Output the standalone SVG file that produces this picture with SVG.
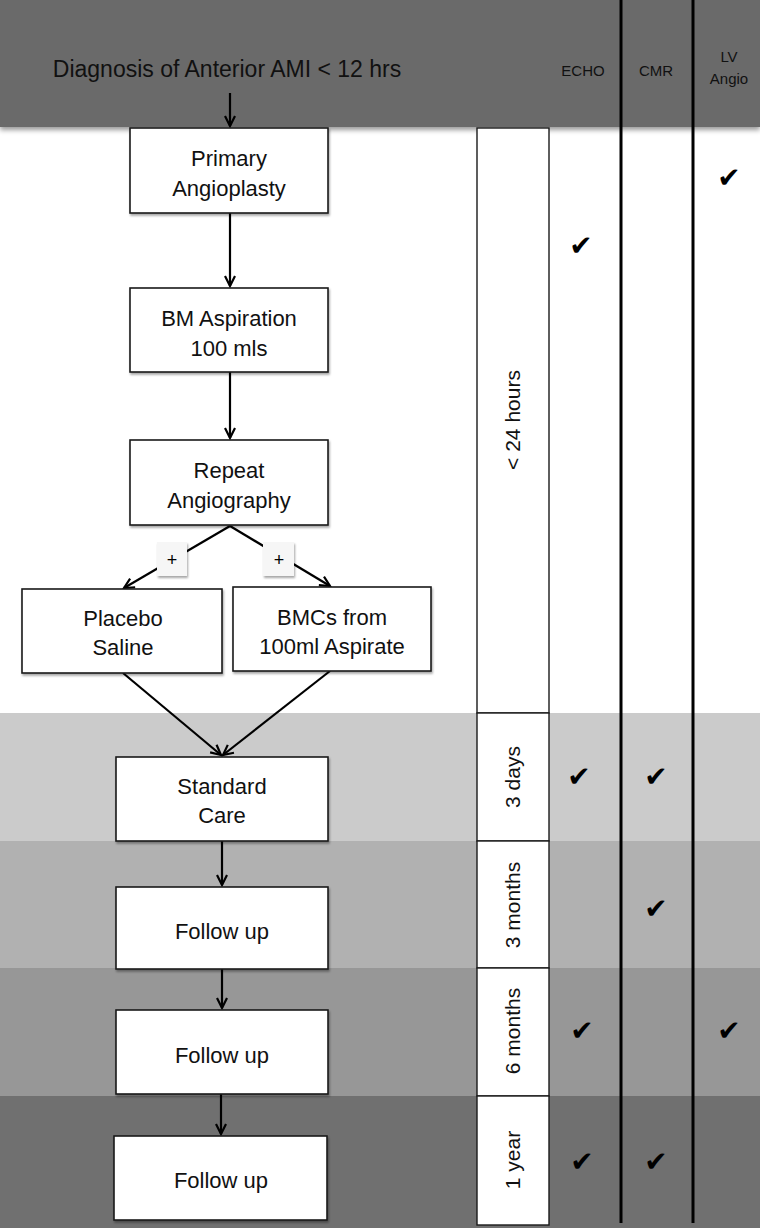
<svg xmlns="http://www.w3.org/2000/svg" width="760" height="1228" viewBox="0 0 760 1228">
<defs>
<style>
.box{fill:#fff;stroke:#1a1a1a;stroke-width:1.6;filter:url(#sh)}
.tbox{fill:#fff;stroke:#1a1a1a;stroke-width:1.4}
.t{font-family:"Liberation Sans",Arial,sans-serif;font-size:22px;fill:#111;text-anchor:middle}
.tl{font-family:"Liberation Sans",Arial,sans-serif;font-size:21px;fill:#111;text-anchor:middle}
.hd{font-family:"Liberation Sans",Arial,sans-serif;fill:#111;text-anchor:middle}
.ck{font-family:"DejaVu Sans",sans-serif;font-size:28px;fill:#000;text-anchor:middle}
.pl{font-family:"Liberation Sans",Arial,sans-serif;font-size:18px;fill:#000;text-anchor:middle}
.con{stroke:#000;stroke-width:2.2;fill:none}
.col{stroke:#000;stroke-width:3}
</style>
<filter id="sh" x="-10%" y="-10%" width="130%" height="140%">
<feDropShadow dx="1" dy="2" stdDeviation="1.2" flood-color="#000" flood-opacity="0.35"/>
</filter>
<filter id="hs" x="-5%" y="-5%" width="110%" height="120%">
<feDropShadow dx="0" dy="3" stdDeviation="2.5" flood-color="#000" flood-opacity="0.4"/>
</filter>
<marker id="ah" markerWidth="14" markerHeight="14" refX="11" refY="6" orient="auto" markerUnits="userSpaceOnUse">
<polyline points="1,1 11,6 1,11" fill="none" stroke="#000" stroke-width="2.2"/>
</marker>
</defs>

<g id="bands">
<rect x="0" y="713" width="760" height="128" fill="#cbcbcb"/>
<rect x="0" y="841" width="760" height="127" fill="#b1b1b1"/>
<rect x="0" y="968" width="760" height="128" fill="#979797"/>
<rect x="0" y="1096" width="760" height="132" fill="#707070"/>
<rect x="0" y="0" width="760" height="127" fill="#6b6b6b" filter="url(#hs)"/>
</g>

<g id="columns">
<line class="col" x1="621" y1="0" x2="621" y2="1223"/>
<line class="col" x1="693" y1="0" x2="693" y2="1223"/>
</g>

<g id="header">
<text class="hd" x="227" y="77" font-size="23">Diagnosis of Anterior AMI &lt; 12 hrs</text>
<text class="hd" x="583" y="76" font-size="15">ECHO</text>
<text class="hd" x="656" y="76" font-size="15">CMR</text>
<text class="hd" x="729" y="62" font-size="15">LV</text>
<text class="hd" x="729" y="84" font-size="15">Angio</text>
</g>

<g id="time-column">
<rect class="tbox" x="477" y="128" width="72" height="585"/>
<rect class="tbox" x="477" y="713" width="72" height="128"/>
<rect class="tbox" x="477" y="841" width="72" height="127"/>
<rect class="tbox" x="477" y="968" width="72" height="128"/>
<rect class="tbox" x="477" y="1096" width="72" height="129"/>
<text class="tl" transform="translate(520,420) rotate(-90)">&lt; 24 hours</text>
<text class="tl" transform="translate(520,777) rotate(-90)">3 days</text>
<text class="tl" transform="translate(520,905) rotate(-90)">3 months</text>
<text class="tl" transform="translate(520,1031) rotate(-90)">6 months</text>
<text class="tl" transform="translate(520,1160) rotate(-90)">1 year</text>
</g>

<g id="checks">
<text class="ck" x="729" y="187">✔</text>
<text class="ck" x="581" y="255">✔</text>
<text class="ck" x="579" y="786">✔</text>
<text class="ck" x="656" y="786">✔</text>
<text class="ck" x="656" y="918">✔</text>
<text class="ck" x="582" y="1040">✔</text>
<text class="ck" x="729" y="1040">✔</text>
<text class="ck" x="582" y="1171">✔</text>
<text class="ck" x="656" y="1171">✔</text>
</g>

<g id="connectors">
<line class="con" x1="230" y1="93" x2="230" y2="126" marker-end="url(#ah)"/>
<line class="con" x1="230" y1="213" x2="230" y2="286" marker-end="url(#ah)"/>
<line class="con" x1="230" y1="372" x2="230" y2="438" marker-end="url(#ah)"/>
<polyline class="con" points="230,526 124,588" marker-end="url(#ah)"/>
<polyline class="con" points="230,526 330,586" marker-end="url(#ah)"/>
<line class="con" x1="123" y1="673" x2="221" y2="755" marker-end="url(#ah)"/>
<line class="con" x1="330" y1="671" x2="223" y2="755" marker-end="url(#ah)"/>
<line class="con" x1="222" y1="841" x2="222" y2="885" marker-end="url(#ah)"/>
<line class="con" x1="222" y1="969" x2="222" y2="1008" marker-end="url(#ah)"/>
<line class="con" x1="221" y1="1094" x2="221" y2="1134" marker-end="url(#ah)"/>
</g>

<g id="plus-left">
<rect x="157" y="542" width="30" height="34" fill="#f6f6f6" filter="url(#sh)"/>
<text class="pl" x="172" y="566">+</text>
</g>
<g id="plus-right">
<rect x="263" y="542" width="31" height="34" fill="#f6f6f6" filter="url(#sh)"/>
<text class="pl" x="279" y="566">+</text>
</g>

<g id="primary-angioplasty">
<rect class="box" x="130" y="128" width="198" height="85"/>
<text class="t" x="229" y="166">Primary</text>
<text class="t" x="229" y="196">Angioplasty</text>
</g>
<g id="bm-aspiration">
<rect class="box" x="130" y="288" width="198" height="84"/>
<text class="t" x="229" y="326">BM Aspiration</text>
<text class="t" x="229" y="356">100 mls</text>
</g>
<g id="repeat-angiography">
<rect class="box" x="130" y="440" width="198" height="85"/>
<text class="t" x="229" y="478">Repeat</text>
<text class="t" x="229" y="508">Angiography</text>
</g>
<g id="placebo-saline">
<rect class="box" x="22" y="589" width="200" height="84"/>
<text class="t" x="123" y="626">Placebo</text>
<text class="t" x="123" y="655">Saline</text>
</g>
<g id="bmcs">
<rect class="box" x="233" y="587" width="198" height="84"/>
<text class="t" x="332" y="625">BMCs from</text>
<text class="t" x="332" y="654">100ml Aspirate</text>
</g>
<g id="standard-care">
<rect class="box" x="116" y="757" width="212" height="84"/>
<text class="t" x="222" y="794">Standard</text>
<text class="t" x="222" y="823">Care</text>
</g>
<g id="follow-up-3m">
<rect class="box" x="116" y="887" width="212" height="82"/>
<text class="t" x="222" y="939">Follow up</text>
</g>
<g id="follow-up-6m">
<rect class="box" x="116" y="1010" width="212" height="84"/>
<text class="t" x="222" y="1063">Follow up</text>
</g>
<g id="follow-up-1y">
<rect class="box" x="114" y="1136" width="213" height="84"/>
<text class="t" x="221" y="1188">Follow up</text>
</g>
</svg>
